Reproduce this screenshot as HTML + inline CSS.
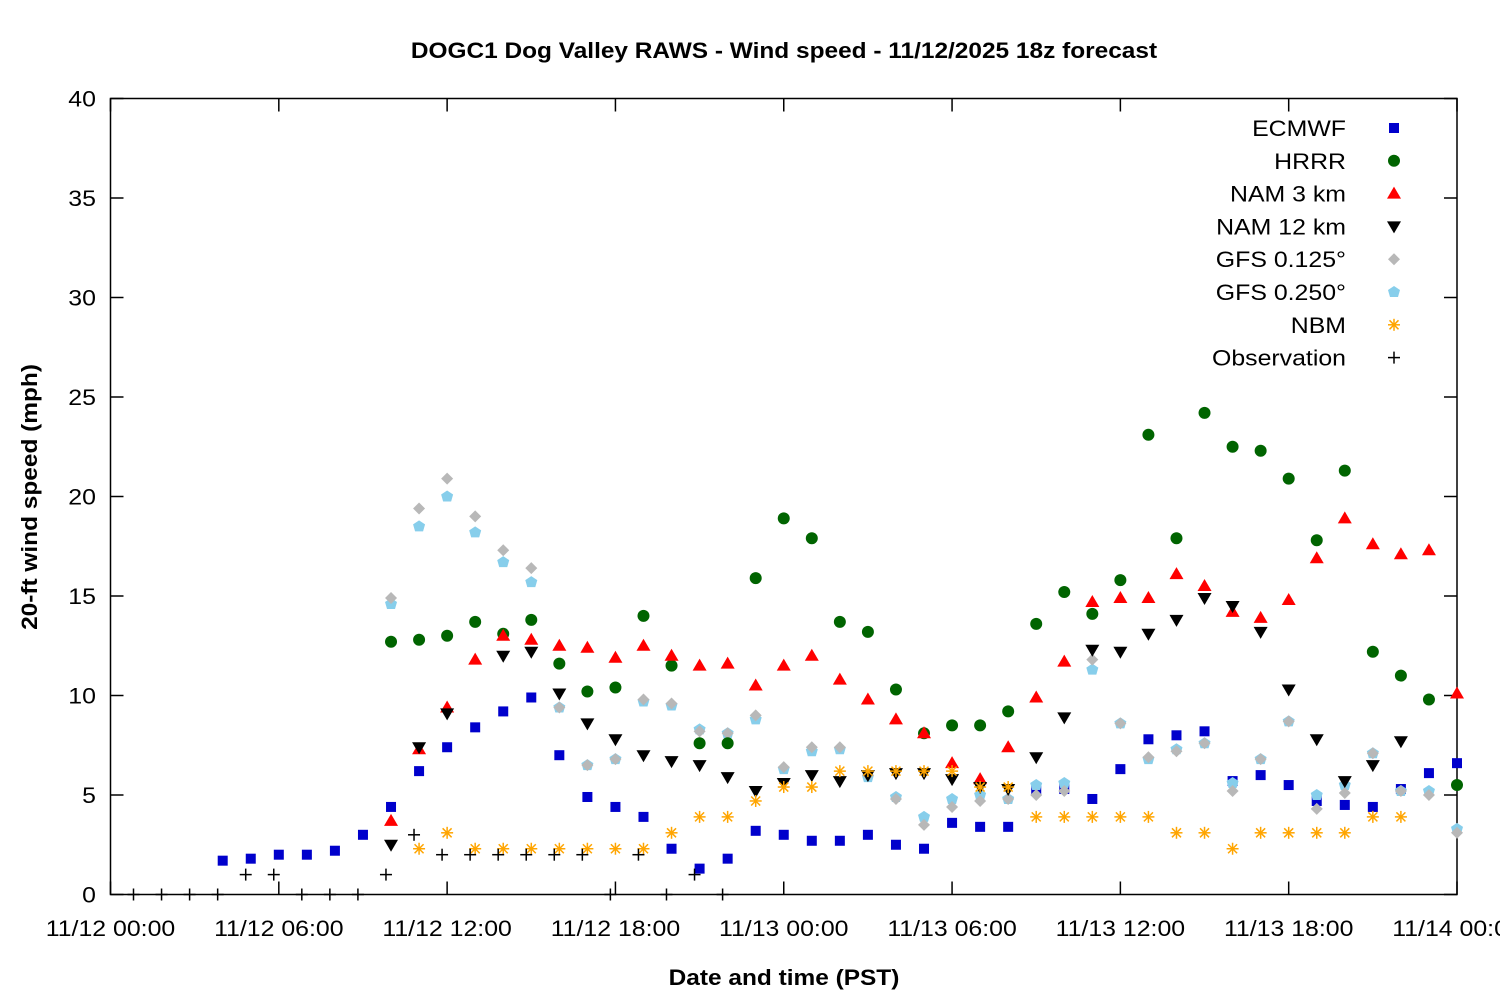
<!DOCTYPE html>
<html><head><meta charset="utf-8"><style>
html,body{margin:0;padding:0;background:#fff;}
svg text{font-family:"Liberation Sans","DejaVu Sans",sans-serif;}
</style></head><body>
<svg id="s" width="1500" height="1000" xmlns="http://www.w3.org/2000/svg">
<rect width="1500" height="1000" fill="#fff"/>
<text x="784" y="58" font-size="22" font-weight="bold" text-anchor="middle">DOGC1 Dog Valley RAWS - Wind speed - 11/12/2025 18z forecast</text>
<text x="784" y="985" font-size="22" font-weight="bold" text-anchor="middle">Date and time (PST)</text>
<text transform="translate(37,497) rotate(-90)" font-size="22" font-weight="bold" text-anchor="middle">20-ft wind speed (mph)</text>
<g id="g"></g>
</svg>
<script>
var g=document.getElementById('g'),h='';
var X0=110.5,X1=1457,Y0=894.5,Y1=98.5;
function Y(v){return Y0-v*(Y0-Y1)/40;}
h+='<rect x="'+X0+'" y="'+Y1+'" width="'+(X1-X0)+'" height="'+(Y0-Y1)+'" fill="none" stroke="#000" stroke-width="1.5"/>';
for(var v=0;v<=40;v+=5){var y=Y(v);
 h+='<line x1="'+X0+'" y1="'+y+'" x2="'+(X0+13)+'" y2="'+y+'" stroke="#000" stroke-width="1.5"/>';
 h+='<line x1="'+X1+'" y1="'+y+'" x2="'+(X1-13)+'" y2="'+y+'" stroke="#000" stroke-width="1.5"/>';
 h+='<text x="96" y="'+(y+8)+'" font-size="22" text-anchor="end">'+v+'</text>';}
var labs=["11/12 00:00","11/12 06:00","11/12 12:00","11/12 18:00","11/13 00:00","11/13 06:00","11/13 12:00","11/13 18:00","11/14 00:00"];
for(var i=0;i<9;i++){var x=X0+i*(X1-X0)/8;
 h+='<line x1="'+x+'" y1="'+Y0+'" x2="'+x+'" y2="'+(Y0-13)+'" stroke="#000" stroke-width="1.5"/>';
 h+='<line x1="'+x+'" y1="'+Y1+'" x2="'+x+'" y2="'+(Y1+13)+'" stroke="#000" stroke-width="1.5"/>';
 h+='<text x="'+x+'" y="936" font-size="22" text-anchor="middle">'+labs[i]+'</text>';}
function M(t,x,y){
 if(t==0)return '<rect x="'+(x-5)+'" y="'+(y-5)+'" width="10" height="10" fill="#0000cc"/>';
 if(t==1)return '<circle cx="'+x+'" cy="'+y+'" r="6" fill="#006400"/>';
 if(t==2)return '<polygon points="'+x+','+(y-7)+' '+(x+7)+','+(y+5)+' '+(x-7)+','+(y+5)+'" fill="#ff0000"/>';
 if(t==3)return '<polygon points="'+x+','+(y+7)+' '+(x+7)+','+(y-5)+' '+(x-7)+','+(y-5)+'" fill="#000"/>';
 if(t==4)return '<polygon points="'+x+','+(y-6)+' '+(x+6)+','+y+' '+x+','+(y+6)+' '+(x-6)+','+y+'" fill="#b8b8b8"/>';
 if(t==5)return '<polygon points="'+x+','+(y-6)+' '+(x+6)+','+(y-2)+' '+(x+4)+','+(y+5)+' '+(x-4)+','+(y+5)+' '+(x-6)+','+(y-2)+'" fill="#87ceeb"/>';
 if(t==6)return '<g stroke="#ffa500" stroke-width="1.5"><line x1="'+(x-6)+'" y1="'+y+'" x2="'+(x+6)+'" y2="'+y+'"/><line x1="'+x+'" y1="'+(y-6)+'" x2="'+x+'" y2="'+(y+6)+'"/><line x1="'+(x-4.5)+'" y1="'+(y-4.5)+'" x2="'+(x+4.5)+'" y2="'+(y+4.5)+'"/><line x1="'+(x-4.5)+'" y1="'+(y+4.5)+'" x2="'+(x+4.5)+'" y2="'+(y-4.5)+'"/></g>';
 return '<g stroke="#000" stroke-width="1.5"><line x1="'+(x-6)+'" y1="'+y+'" x2="'+(x+6)+'" y2="'+y+'"/><line x1="'+x+'" y1="'+(y-6)+'" x2="'+x+'" y2="'+(y+6)+'"/></g>';}
function S(t,start,vals){for(var i=0;i<vals.length;i++){if(vals[i]==null)continue;var x=X0+(start+i)*(X1-X0)/48;h+=M(t,x,Y(vals[i]));}}
S(0,4,[1.7,1.8,2.0,2.0,2.2,3.0,4.4,6.2,7.4,8.4,9.2,9.9,7.0,4.9,4.4,3.9,2.3,1.3,1.8,3.2,3.0,2.7,2.7,3.0,2.5,2.3,3.6,3.4,3.4,5.2,5.3,4.8,6.3,7.8,8.0,8.2,5.7,6.0,5.5,4.7,4.5,4.4,5.3,6.1,6.6]);
S(5,10,[14.6,18.5,20.0,18.2,16.7,15.7,9.4,6.5,6.8,9.7,9.5,8.3,8.1,8.8,6.3,7.2,7.3,5.9,4.9,3.9,4.8,5.0,4.8,5.5,5.6,11.3,8.6,6.8,7.3,7.6,5.6,6.8,8.7,5.0,5.5,7.1,5.2,5.2,3.3]);
S(4,10,[14.9,19.4,20.9,19.0,17.3,16.4,9.4,6.5,6.8,9.8,9.6,8.2,8.1,9.0,6.4,7.4,7.4,6.0,4.8,3.5,4.4,4.7,4.8,5.0,5.2,11.8,8.6,6.9,7.2,7.6,5.2,6.8,8.7,4.3,5.1,7.1,5.2,5.0,3.1]);
S(1,10,[12.7,12.8,13.0,13.7,13.1,13.8,11.6,10.2,10.4,14.0,11.5,7.6,7.6,15.9,18.9,17.9,13.7,13.2,10.3,8.1,8.5,8.5,9.2,13.6,15.2,14.1,15.8,23.1,17.9,24.2,22.5,22.3,20.9,17.8,21.3,12.2,11.0,9.8,5.5]);
S(2,10,[3.7,7.3,9.4,11.8,13.0,12.8,12.5,12.4,11.9,12.5,12.0,11.5,11.6,10.5,11.5,12.0,10.8,9.8,8.8,8.1,6.6,5.8,7.4,9.9,11.7,14.7,14.9,14.9,16.1,15.5,14.2,13.9,14.8,16.9,18.9,17.6,17.1,17.3,10.1]);
S(3,10,[2.5,7.4,9.1,null,12.0,12.2,10.1,8.6,7.8,7.0,6.7,6.5,5.9,5.2,5.6,6.0,5.7,6.0,6.1,6.1,5.8,5.4,5.3,6.9,8.9,12.3,12.2,13.1,13.8,14.9,14.5,13.2,10.3,7.8,5.7,6.5,7.7]);
S(6,11,[2.3,3.1,2.3,2.3,2.3,2.3,2.3,2.3,2.3,3.1,3.9,3.9,4.7,5.4,5.4,6.2,6.2,6.2,6.2,6.2,5.4,5.4,3.9,3.9,3.9,3.9,3.9,3.1,3.1,2.3,3.1,3.1,3.1,3.1,3.9,3.9]);
var ob=[0,0,0,0,1,1,0,0,0,1,3,2,2,2,2,2,2,0,2,0,1,0];
for(var i=0;i<ob.length;i++){var x=133.5+i*(X1-X0)/48;h+=M(7,x,Y(ob[i]));}
var L=["ECMWF","HRRR","NAM 3 km","NAM 12 km","GFS 0.125°","GFS 0.250°","NBM","Observation"];
for(var i=0;i<8;i++){var y=128+i*32.8;h+='<text x="1346" y="'+(y+8)+'" font-size="22" text-anchor="end">'+L[i]+'</text>'+M(i,1394,y);}
g.innerHTML=h;
var ts=document.querySelectorAll('svg text');
for(var i=0;i<ts.length;i++){var t=ts[i];var w=t.getComputedTextLength();var f=t.getAttribute('font-weight')=='bold'?1.11:1.13;
 t.setAttribute('textLength',(w*f).toFixed(1));t.setAttribute('lengthAdjust','spacingAndGlyphs');}
</script>
</body></html>
